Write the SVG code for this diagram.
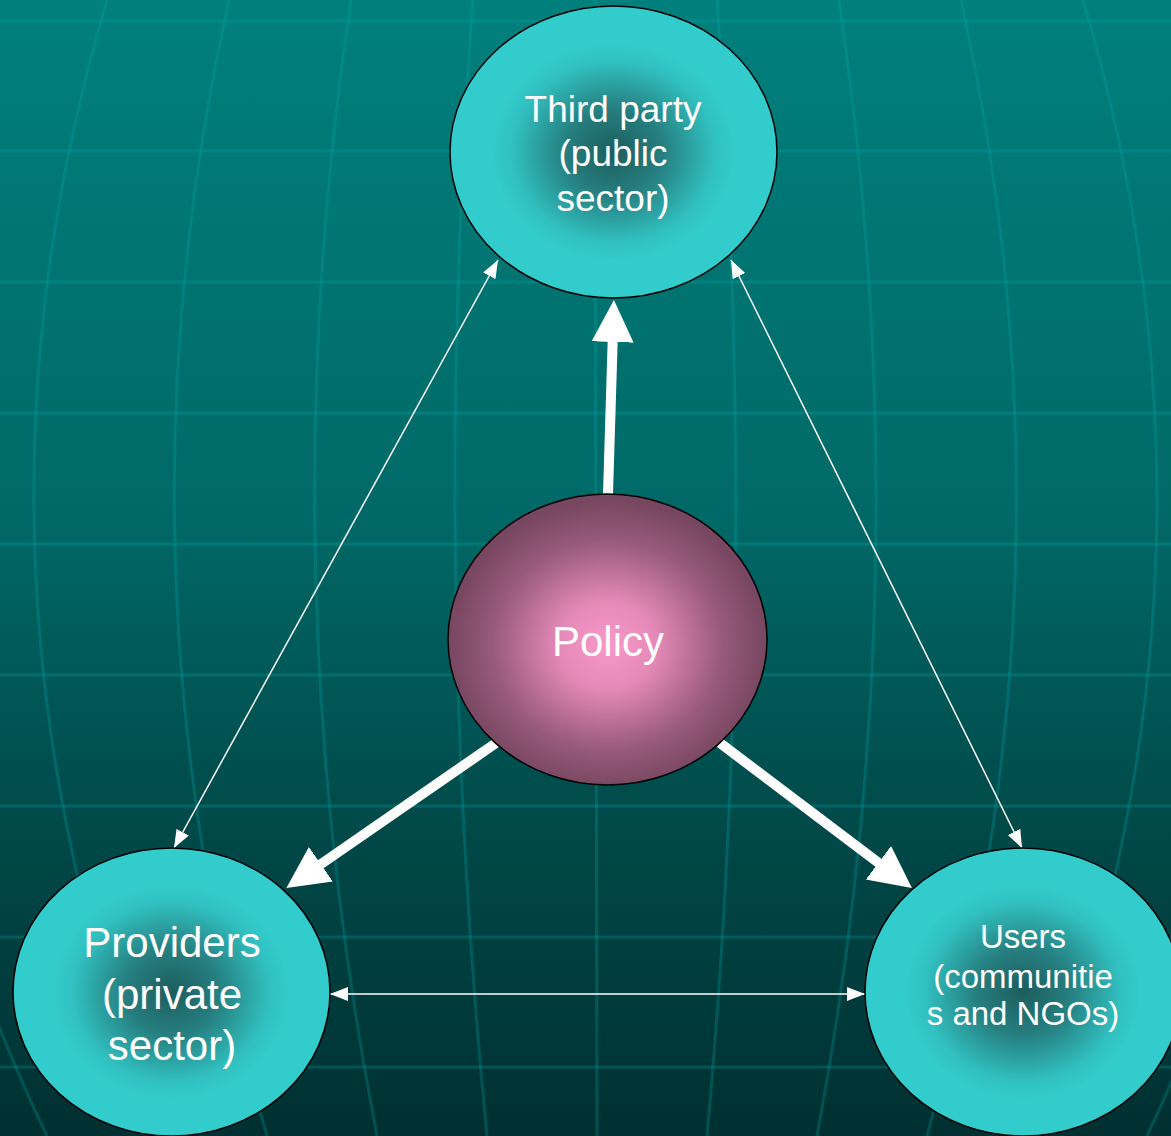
<svg xmlns="http://www.w3.org/2000/svg" width="1171" height="1136" viewBox="0 0 1171 1136">
  <defs>
    <linearGradient id="bg" x1="0" y1="0" x2="0" y2="1">
      <stop offset="0" stop-color="#00807D"/>
      <stop offset="0.45" stop-color="#006967"/>
      <stop offset="0.75" stop-color="#004747"/>
      <stop offset="1" stop-color="#003031"/>
    </linearGradient>
    <radialGradient id="cyan" cx="0.5" cy="0.5" r="0.5">
      <stop offset="0" stop-color="#1D5D5D"/>
      <stop offset="0.3" stop-color="#267F80"/>
      <stop offset="0.62" stop-color="#31C0C0"/>
      <stop offset="0.75" stop-color="#33CCCC"/>
      <stop offset="1" stop-color="#33CCCC"/>
    </radialGradient>
    <radialGradient id="pink" cx="0.5" cy="0.52" r="0.5">
      <stop offset="0" stop-color="#F898C9"/>
      <stop offset="0.3" stop-color="#E58AB8"/>
      <stop offset="0.72" stop-color="#985A7B"/>
      <stop offset="1" stop-color="#774660"/>
    </radialGradient>
    <marker id="bigHead" markerUnits="userSpaceOnUse" markerWidth="44" markerHeight="44" viewBox="0 -22 44 44" refX="12" refY="0" orient="auto">
      <path d="M0,-21 L42,0 L0,21 Z" fill="#FFFFFF"/>
    </marker>
    <marker id="thinHead" markerUnits="userSpaceOnUse" markerWidth="20" markerHeight="16" viewBox="0 -8 20 16" refX="18" refY="0" orient="auto-start-reverse">
      <path d="M0,-7 L18,0 L0,7 Z" fill="#FFFFFF"/>
    </marker>
    <style>
      .grid { stroke: #00AAAA; stroke-opacity: 0.27; stroke-width: 3; fill: none; }
      .node { stroke: #000000; stroke-width: 1.5; }
      .lbl { fill: #FFFFFF; font-family: "Liberation Sans", Arial, sans-serif; text-anchor: middle; }
      .thick { stroke: #FFFFFF; stroke-width: 10; fill: none; marker-end: url(#bigHead); }
      .thin { stroke: #FFFFFF; stroke-width: 1.5; fill: none; marker-start: url(#thinHead); marker-end: url(#thinHead); }
    </style>
  </defs>

  <g id="background">
    <rect x="0" y="0" width="1171" height="1136" fill="url(#bg)"/>
    <g class="grid">
      <line x1="0" y1="21" x2="1171" y2="21"/>
      <line x1="0" y1="151" x2="1171" y2="151"/>
      <line x1="0" y1="282" x2="1171" y2="282"/>
      <line x1="0" y1="413" x2="1171" y2="413"/>
      <line x1="0" y1="544" x2="1171" y2="544"/>
      <line x1="0" y1="675" x2="1171" y2="675"/>
      <line x1="0" y1="806" x2="1171" y2="806"/>
      <line x1="0" y1="937" x2="1171" y2="937"/>
      <line x1="0" y1="1067" x2="1171" y2="1067"/>
      <path d="M595,0 L597,1136"/>
      <path d="M473,0 Q431,568 487,1136"/>
      <path d="M717,0 Q759,568 707,1136"/>
      <path d="M351,0 Q267,568 377,1136"/>
      <path d="M839,0 Q923,568 817,1136"/>
      <path d="M229,0 Q103,568 267,1136"/>
      <path d="M961,0 Q1087,568 927,1136"/>
      <path d="M107,0 Q-61,568 157,1136"/>
      <path d="M1083,0 Q1251,568 1037,1136"/>
      <path d="M-15,0 Q-225,568 47,1136"/>
      <path d="M1205,0 Q1415,568 1147,1136"/>
    </g>
  </g>

  <g id="connectors">
    <line class="thick" x1="608" y1="494" x2="613" y2="330"/>
    <line class="thick" x1="496" y1="743" x2="311" y2="871"/>
    <line class="thick" x1="720" y1="743" x2="888" y2="870"/>
    <line class="thin" x1="174" y1="848" x2="498" y2="260"/>
    <line class="thin" x1="731" y1="260" x2="1022" y2="848"/>
    <line class="thin" x1="330" y1="994" x2="865" y2="994"/>
  </g>

  <g id="third-party">
    <ellipse class="node" cx="613.5" cy="152" rx="163.5" ry="146" fill="url(#cyan)"/>
    <text class="lbl" x="613" y="122" font-size="37">Third party</text>
    <text class="lbl" x="613" y="166" font-size="37">(public</text>
    <text class="lbl" x="613" y="211" font-size="37">sector)</text>
  </g>

  <g id="policy">
    <ellipse class="node" cx="607.5" cy="639.5" rx="159.5" ry="145.5" fill="url(#pink)"/>
    <text class="lbl" x="608" y="656" font-size="42">Policy</text>
  </g>

  <g id="providers">
    <ellipse class="node" cx="171.5" cy="992" rx="158.5" ry="144" fill="url(#cyan)"/>
    <text class="lbl" x="172" y="957" font-size="42">Providers</text>
    <text class="lbl" x="172" y="1009" font-size="42">(private</text>
    <text class="lbl" x="172" y="1060" font-size="42">sector)</text>
  </g>

  <g id="users">
    <ellipse class="node" cx="1023" cy="992" rx="158" ry="144" fill="url(#cyan)"/>
    <text class="lbl" x="1023" y="948" font-size="33">Users</text>
    <text class="lbl" x="1023" y="988" font-size="33">(communitie</text>
    <text class="lbl" x="1023" y="1025" font-size="33">s and NGOs)</text>
  </g>
</svg>
